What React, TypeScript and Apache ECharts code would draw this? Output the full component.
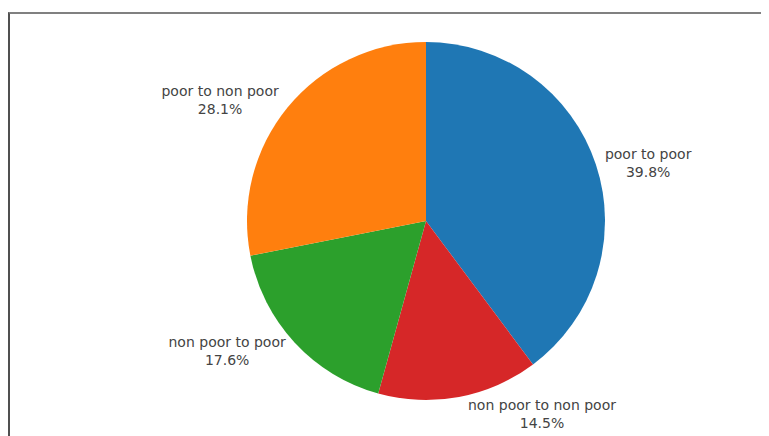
import React, { useEffect, useRef } from "react";
import * as echarts from "echarts";

const categories = ["poor to poor", "non poor to non poor", "non poor to poor", "poor to non poor"];
const values = [39.8, 14.5, 17.6, 28.1];
const colors = ["#1f77b4", "#d62728", "#2ca02c", "#ff7f0e"];

const CX = 418;
const CY = 213;
const R = 179;

export default function App() {
  const ref = useRef<HTMLDivElement>(null);
  useEffect(() => {
    if (!ref.current) return;
    const chart = echarts.init(ref.current, null, { renderer: "svg" });
    const total = values.reduce((a, b) => a + b, 0);
    const starts: number[] = [];
    let acc = 0;
    values.forEach((v) => {
      starts.push(acc);
      acc += v;
    });
    chart.setOption({
      animation: false,
      series: [
        {
          type: "pie",
          center: [CX, CY],
          radius: R,
          startAngle: 90,
          clockwise: true,
          avoidLabelOverlap: false,
          itemStyle: { borderWidth: 0 },
          label: {
            show: true,
            position: "outside",
            formatter: (p: any) => `${p.name}\n${Number(p.value).toFixed(1)}%`,
            fontFamily: "DejaVu Sans",
            fontSize: 14,
            lineHeight: 18,
            color: "#444",
            align: "center",
          },
          labelLine: { show: false },
          emphasis: { disabled: true },
          labelLayout: (params: any) => {
            const i = params.dataIndex;
            const theta = (2 * Math.PI * (starts[i] + values[i] / 2)) / total;
            const x = R * Math.sin(theta);
            const y = -R * Math.cos(theta);
            const w = params.labelRect.width;
            const h = params.labelRect.height;
            let dx = w / 2;
            let dy = h / 2;
            if (x < 0) dx *= -1;
            if (y < 0) dy *= -1;
            const tx = dx + (Math.abs(dy) * (dx > 0 ? 1 : -1)) / 2;
            const ty = dy / (1 + (x * x) / (y * y));
            return {
              x: CX + x + tx,
              y: CY + y + ty,
              align: "center",
              verticalAlign: "middle",
            };
          },
          data: categories.map((name, i) => ({
            name,
            value: values[i],
            itemStyle: { color: colors[i] },
          })),
        },
      ],
    });
    return () => chart.dispose();
  }, []);
  return (
    <div style={{ position: "relative", width: 761, height: 428 }}>
      <div
        style={{
          position: "absolute",
          left: 0,
          top: 4,
          right: 0,
          bottom: 0,
          borderTop: "2px solid #808080",
          borderLeft: "2px solid #505050",
        }}
      />
      <div ref={ref} style={{ position: "absolute", left: 0, top: 0, width: 761, height: 428 }} />
    </div>
  );
}
